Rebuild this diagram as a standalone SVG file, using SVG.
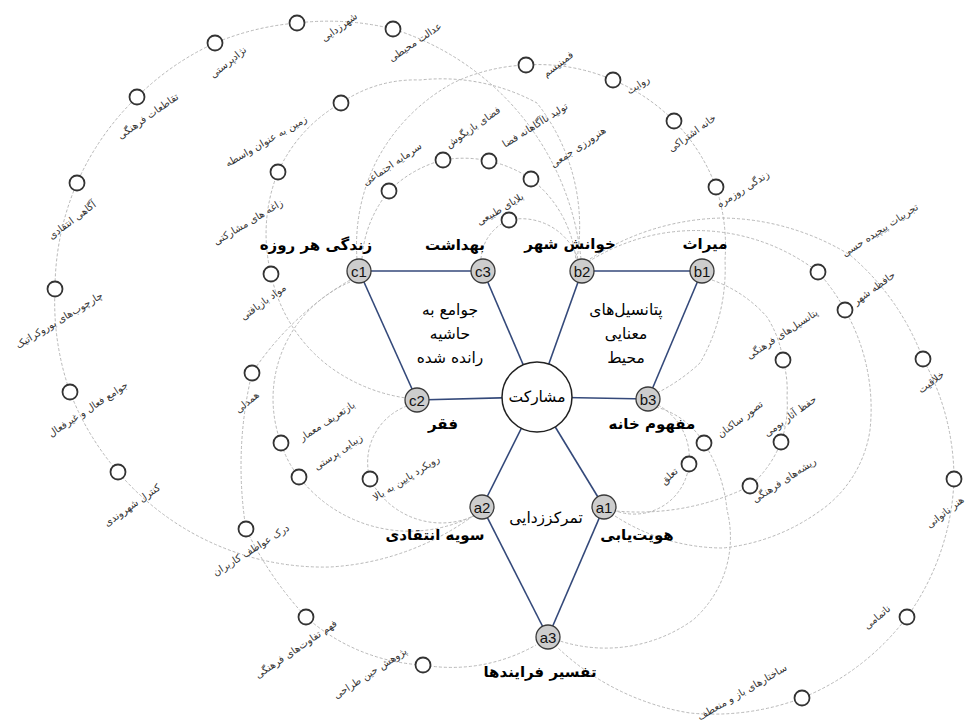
<svg xmlns="http://www.w3.org/2000/svg" width="973" height="726" viewBox="0 0 973 726">
<style>
.d{fill:none;stroke:#b8b8b8;stroke-width:1;stroke-dasharray:3 2}
.e{stroke:#34497a;stroke-width:1.6}
.t circle{fill:#cdcdcd;stroke:#3a3a3a;stroke-width:1.3}
.t text.c{font-family:"Liberation Sans",sans-serif;font-size:15px;text-anchor:middle;dominant-baseline:central;fill:#111}
.n circle{fill:#fff;stroke:#333;stroke-width:1.8}
.s{font-family:"DejaVu Sans",sans-serif;font-size:10px;fill:#333;text-anchor:middle;dominant-baseline:central}
.b{font-family:"DejaVu Sans",sans-serif;font-size:15px;font-weight:bold;fill:#000;text-anchor:middle;dominant-baseline:central}
.m{font-family:"DejaVu Sans",sans-serif;font-size:15.5px;fill:#000;text-anchor:middle;dominant-baseline:central}
</style>
<rect width="973" height="726" fill="#fff"/>
<g id="connectors">
<path class="d" d="M581,259 A270,270 0 0 0 393,29 A270,270 0 0 0 297,23 A270,270 0 0 0 215,43 A270,270 0 0 0 137,97 A270,270 0 0 0 77,183 A270,270 0 0 0 55,289 A270,270 0 0 0 70,392 A270,270 0 0 0 118,472 A270,270 0 0 0 247,556 A270,270 0 0 0 330,567 A270,270 0 0 0 473,516"/>
<path class="d" d="M577,259 A200,200 0 0 0 537,103 A200,200 0 0 0 420,80 A130,130 0 0 0 341,103 A150,150 0 0 0 278,172 A166,166 0 0 0 271,274 A155,155 0 0 0 330,367 A170,170 0 0 0 406,398"/>
<path class="d" d="M362,259 A118,118 0 0 1 389,191 A118,118 0 0 1 443,160 A118,118 0 0 1 489,161 A118,118 0 0 1 531,179 A118,118 0 0 1 576,260"/>
<path class="d" d="M481,259 A45,45 0 0 1 509,220 A60,60 0 0 1 578,259"/>
<path class="d" d="M357,259 A188,188 0 0 1 377,160 A188,188 0 0 1 453,83 A188,188 0 0 1 526,65 A188,188 0 0 1 613,80 A188,188 0 0 1 674,121 A188,188 0 0 1 716,187 A188,188 0 0 1 725,260 A188,188 0 0 1 700,363 A188,188 0 0 1 657,393"/>
<path class="d" d="M590,259 A250,250 0 0 1 723,218 A250,250 0 0 1 850,255 A250,250 0 0 1 923,359 A250,250 0 0 1 954,479 A250,250 0 0 1 907,617 A250,250 0 0 1 802,698 A250,250 0 0 1 690,713 A250,250 0 0 1 557,647"/>
<path class="d" d="M588,262 A200,200 0 0 1 720,232 A200,200 0 0 1 818,272 A200,200 0 0 1 845,310 A200,200 0 0 1 870,430 A120,120 0 0 1 817,513 A200,200 0 0 1 723,548 A200,200 0 0 1 615,516"/>
<path class="d" d="M712,280 A130,130 0 0 1 767,317 A110,110 0 0 1 783,360 A110,110 0 0 1 787,397 A110,110 0 0 1 781,442 A110,110 0 0 1 750,486 A250,250 0 0 1 616,511"/>
<path class="d" d="M656,407 A80,80 0 0 1 704,443 A150,150 0 0 1 727,510 A110,110 0 0 1 693,620 A150,150 0 0 1 560,641"/>
<path class="d" d="M658,405 A60,60 0 0 1 689,464 A55,55 0 0 1 616,511"/>
<path class="d" d="M350,280 A300,300 0 0 0 252,373 A400,400 0 0 0 246,529 A350,350 0 0 0 306,617 A190,190 0 0 0 423,665 A170,170 0 0 0 536,645"/>
<path class="d" d="M350,282 A127,127 0 0 0 281,443 A100,100 0 0 0 299,477 A140,140 0 0 0 473,516"/>
<path class="d" d="M407,406 A60,60 0 0 0 370,479 A80,80 0 0 0 474,516"/>
<line class="e" x1="359" y1="271" x2="483" y2="271"/>
<line class="e" x1="359" y1="271" x2="417" y2="400"/>
<line class="e" x1="483" y1="271" x2="537" y2="397"/>
<line class="e" x1="417" y1="400" x2="537" y2="397"/>
<line class="e" x1="582" y1="271" x2="702" y2="271"/>
<line class="e" x1="582" y1="271" x2="537" y2="397"/>
<line class="e" x1="702" y1="271" x2="648" y2="399"/>
<line class="e" x1="648" y1="399" x2="537" y2="397"/>
<line class="e" x1="482" y1="507" x2="548" y2="637"/>
<line class="e" x1="604" y1="507" x2="548" y2="637"/>
<line class="e" x1="482" y1="507" x2="537" y2="397"/>
<line class="e" x1="604" y1="507" x2="537" y2="397"/>
</g>
<g id="center"><circle cx="537" cy="397" r="35" fill="#fff" stroke="#222" stroke-width="1.5"/><text class="m" x="537" y="397">مشارکت</text></g>
<text class="m" x="450" y="310">جوامع به</text>
<text class="m" x="450" y="334">حاشیه</text>
<text class="m" x="450" y="358">رانده شده</text>
<text class="m" x="626" y="310">پتانسیل‌های</text>
<text class="m" x="626" y="334">معنایی</text>
<text class="m" x="626" y="358">محیط</text>
<text class="m" x="546" y="518">تمرکززدایی</text>
<g id="c1" class="t"><circle cx="359" cy="271" r="12"/><text class="c" x="359" y="271">c1</text><text class="b" x="316" y="245">زندگی هر روزه</text></g>
<g id="c3" class="t"><circle cx="483" cy="271" r="12"/><text class="c" x="483" y="271">c3</text><text class="b" x="455" y="245">بهداشت</text></g>
<g id="c2" class="t"><circle cx="417" cy="400" r="12"/><text class="c" x="417" y="400">c2</text><text class="b" x="443" y="424">فقر</text></g>
<g id="b2" class="t"><circle cx="582" cy="271" r="12"/><text class="c" x="582" y="271">b2</text><text class="b" x="570" y="244">خوانش شهر</text></g>
<g id="b1" class="t"><circle cx="702" cy="271" r="12"/><text class="c" x="702" y="271">b1</text><text class="b" x="705" y="244">میراث</text></g>
<g id="b3" class="t"><circle cx="648" cy="399" r="12"/><text class="c" x="648" y="399">b3</text><text class="b" x="652" y="424">مفهوم خانه</text></g>
<g id="a2" class="t"><circle cx="482" cy="507" r="12"/><text class="c" x="482" y="507">a2</text><text class="b" x="435" y="535">سویه انتقادی</text></g>
<g id="a1" class="t"><circle cx="604" cy="507" r="12"/><text class="c" x="604" y="507">a1</text><text class="b" x="637" y="535">هویت‌یابی</text></g>
<g id="a3" class="t"><circle cx="548" cy="637" r="12"/><text class="c" x="548" y="637">a3</text><text class="b" x="540" y="672">تفسیر فرایندها</text></g>
<g id="n1" class="n"><circle cx="215" cy="43" r="7.5"/><text class="s" transform="translate(228,62) rotate(-39)">نژادپرستی</text></g>
<g id="n2" class="n"><circle cx="297" cy="23" r="7.5"/><text class="s" transform="translate(339,27) rotate(-36)">شهرزدایی</text></g>
<g id="n3" class="n"><circle cx="393" cy="29" r="7.5"/><text class="s" transform="translate(415,42) rotate(-34)">عدالت محیطی</text></g>
<g id="n4" class="n"><circle cx="137" cy="97" r="7.5"/><text class="s" transform="translate(148,116) rotate(-35)">تقاطعات فرهنگی</text></g>
<g id="n5" class="n"><circle cx="77" cy="183" r="7.5"/><text class="s" transform="translate(72,220) rotate(-37)">آگاهی انتقادی</text></g>
<g id="n6" class="n"><circle cx="55" cy="289" r="7.5"/><text class="s" transform="translate(59,320) rotate(-31)">چارچوب‌های بوروکراتیک</text></g>
<g id="n7" class="n"><circle cx="70" cy="392" r="7.5"/><text class="s" transform="translate(88,409) rotate(-33)">جوامع فعال و غیرفعال</text></g>
<g id="n8" class="n"><circle cx="118" cy="472" r="7.5"/><text class="s" transform="translate(132,505) rotate(-35)">کنترل شهروندی</text></g>
<g id="n9" class="n"><circle cx="246" cy="529" r="7.5"/><text class="s" transform="translate(251,550) rotate(-32)">درک عواطف کاربران</text></g>
<g id="n10" class="n"><circle cx="306" cy="617" r="7.5"/><text class="s" transform="translate(296,649) rotate(-34)">فهم تفاوت‌های فرهنگی</text></g>
<g id="n11" class="n"><circle cx="423" cy="665" r="7.5"/><text class="s" transform="translate(370,673) rotate(-33)">پژوهش حین طراحی</text></g>
<g id="n12" class="n"><circle cx="341" cy="103" r="7.5"/><text class="s" transform="translate(266,141) rotate(-30)">زمین به عنوان واسطه</text></g>
<g id="n13" class="n"><circle cx="278" cy="172" r="7.5"/><text class="s" transform="translate(248,222) rotate(-31)">زاغه های مشارکتی</text></g>
<g id="n14" class="n"><circle cx="271" cy="274" r="7.5"/><text class="s" transform="translate(263,302) rotate(-36)">مواد بازیافتی</text></g>
<g id="n15" class="n"><circle cx="252" cy="373" r="7.5"/><text class="s" transform="translate(247,402) rotate(-39)">همدلی</text></g>
<g id="n16" class="n"><circle cx="281" cy="443" r="7.5"/><text class="s" transform="translate(327,421) rotate(-33)">بازتعریف معمار</text></g>
<g id="n17" class="n"><circle cx="299" cy="477" r="7.5"/><text class="s" transform="translate(338,452) rotate(-34)">زیبایی پرستی</text></g>
<g id="n18" class="n"><circle cx="370" cy="479" r="7.5"/><text class="s" transform="translate(406,478) rotate(-32)">رویکرد پایین به بالا</text></g>
<g id="n19" class="n"><circle cx="389" cy="191" r="7.5"/><text class="s" transform="translate(392,164) rotate(-34)">سرمایه اجتماعی</text></g>
<g id="n20" class="n"><circle cx="443" cy="160" r="7.5"/><text class="s" transform="translate(473,127) rotate(-35)">فضای بازیگوش</text></g>
<g id="n21" class="n"><circle cx="489" cy="161" r="7.5"/><text class="s" transform="translate(535,125) rotate(-32)">تولید ناآگاهانه فضا</text></g>
<g id="n22" class="n"><circle cx="531" cy="179" r="7.5"/><text class="s" transform="translate(578,147) rotate(-34)">هنرورزی جمعی</text></g>
<g id="n23" class="n"><circle cx="509" cy="220" r="7.5"/><text class="s" transform="translate(500,209) rotate(-31)">بلایای طبیعی</text></g>
<g id="n24" class="n"><circle cx="526" cy="65" r="7.5"/><text class="s" transform="translate(558,64) rotate(-37)">فمینیسم</text></g>
<g id="n25" class="n"><circle cx="613" cy="80" r="7.5"/><text class="s" transform="translate(638,85) rotate(-33)">روایت</text></g>
<g id="n26" class="n"><circle cx="674" cy="121" r="7.5"/><text class="s" transform="translate(692,133) rotate(-36)">خانه اشتراکی</text></g>
<g id="n27" class="n"><circle cx="716" cy="187" r="7.5"/><text class="s" transform="translate(743,189) rotate(-32)">زندگی روزمره</text></g>
<g id="n28" class="n"><circle cx="818" cy="272" r="7.5"/><text class="s" transform="translate(880,230) rotate(-33)">تجربیات پیچیده حسی</text></g>
<g id="n29" class="n"><circle cx="845" cy="310" r="7.5"/><text class="s" transform="translate(874,288) rotate(-36)">حافظه شهر</text></g>
<g id="n30" class="n"><circle cx="783" cy="360" r="7.5"/><text class="s" transform="translate(782,334) rotate(-33)">پتانسیل‌های فرهنگی</text></g>
<g id="n31" class="n"><circle cx="923" cy="359" r="7.5"/><text class="s" transform="translate(931,382) rotate(-37)">خلاقیت</text></g>
<g id="n32" class="n"><circle cx="781" cy="442" r="7.5"/><text class="s" transform="translate(790,416) rotate(-36)">حفظ آثار بومی</text></g>
<g id="n33" class="n"><circle cx="704" cy="443" r="7.5"/><text class="s" transform="translate(740,419) rotate(-37)">تصور ساکنان</text></g>
<g id="n34" class="n"><circle cx="689" cy="464" r="7.5"/><text class="s" transform="translate(669,476) rotate(-42)">تعلق</text></g>
<g id="n35" class="n"><circle cx="750" cy="486" r="7.5"/><text class="s" transform="translate(784,480) rotate(-33)">ریشه‌های فرهنگی</text></g>
<g id="n36" class="n"><circle cx="954" cy="479" r="7.5"/><text class="s" transform="translate(945,512) rotate(-38)">هنر ناتوانی</text></g>
<g id="n37" class="n"><circle cx="907" cy="617" r="7.5"/><text class="s" transform="translate(877,617) rotate(-40)">ناتمامی</text></g>
<g id="n38" class="n"><circle cx="802" cy="698" r="7.5"/><text class="s" transform="translate(742,692) rotate(-30)">ساختارهای باز و منعطف</text></g>
</svg>
